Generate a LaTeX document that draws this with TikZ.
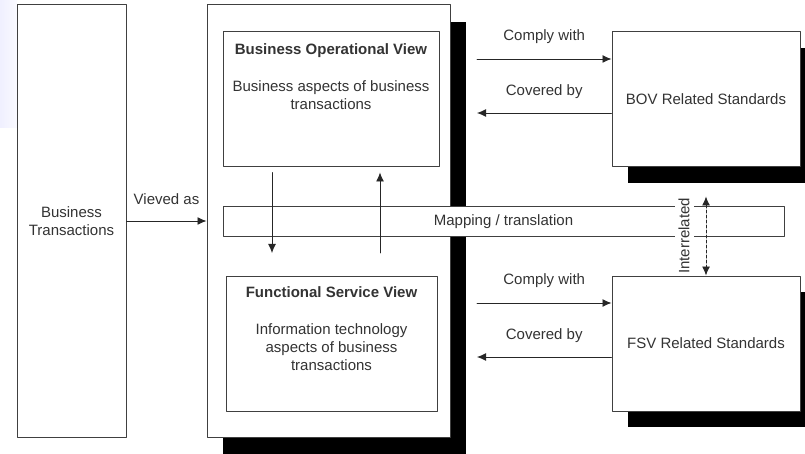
\documentclass[tikz,border=0pt]{standalone}
\usepackage{fontspec}
\setmainfont{Liberation Sans}
\usetikzlibrary{positioning,shadows,arrows.meta}
\begin{document}
\begin{tikzpicture}[x=1pt, y=-1pt, font=\fontsize{15}{18}\selectfont, line join=round, line cap=round, >={Latex[length=9pt,width=8pt]},
	box/.style={draw=black!75, fill=white, line width=1pt, inner sep=0pt, text=black!80, align=center},
	shadowbox/.style={box, drop shadow={shadow xshift=16pt, shadow yshift=-16pt, fill=black, opacity=1}},
	lbl/.style={text=black!80, inner sep=1pt, align=center},
	con/.style={->, draw=black!85, line width=.9pt}]
	\useasboundingbox (0,0) rectangle (805,454);
	\fill[left color=blue!6, right color=blue!2] (0,0) rectangle (17,128);
	% left block and the view container
	\node[box, minimum width=109pt, minimum height=432pt] (trans) at (71.5,221) {Business\\Transactions};
	\node[box, minimum width=243pt, minimum height=432pt, drop shadow={shadow xshift=16pt, shadow yshift=-17pt, fill=black, opacity=1}] (view) at (328.5,221) {};
	\node[box, minimum width=216pt, minimum height=135pt] (bov) at (331,99.5) {};
	\node[lbl, anchor=north] (bovtxt) at (331,42) {\textbf{Business Operational View}\\[19pt]Business aspects of business\\transactions};
	\node[box, minimum width=211pt, minimum height=135pt] (fsv) at (331.5,343.5) {};
	\node[lbl, anchor=north] (fsvtxt) at (331.5,285) {\textbf{Functional Service View}\\[19pt]Information technology\\aspects of business\\transactions};
	\node[box, minimum width=561pt, minimum height=30pt] (map) at (503.5,222) {Mapping / translation};
	% standards
	\node[shadowbox, minimum width=188pt, minimum height=135pt] (bovstd) at (706,99.5) {BOV Related Standards};
	\node[shadowbox, minimum width=188pt, minimum height=135pt] (fsvstd) at (706,343.5) {FSV Related Standards};
	% connectors
	\coordinate (dn) at (272,253); \coordinate (up) at (380,253);
	\draw[con, shorten <=5pt] (bov.south -| dn) -- (dn);
	\draw[con, shorten >=5pt] (up) -- (bov.south -| up);
	\draw[con] (trans.east) -- node[lbl, above=15pt]{Vieved as} (view.west);
	\coordinate (c1) at (477,59); \coordinate (c2) at (477,113);
	\coordinate (c3) at (477,303); \coordinate (c4) at (477,357);
	\draw[con] (c1) -- node[lbl, above=14pt]{Comply with} (bovstd.west |- c1);
	\draw[con] (bovstd.west |- c2) -- node[lbl, above=13pt]{Covered by} (c2);
	\draw[con] (c3) -- node[lbl, above=14pt]{Comply with} (fsvstd.west |- c3);
	\draw[con] (fsvstd.west |- c4) -- node[lbl, above=13pt]{Covered by} (c4);
	\draw[con, <->, dash pattern=on 3pt off 2pt] ([yshift=-29pt]bovstd.south) -- node[lbl, xshift=-22pt, rotate=90, fill=white, inner ysep=4pt]{Interrelated} (fsvstd.north);
\end{tikzpicture}
\end{document}
